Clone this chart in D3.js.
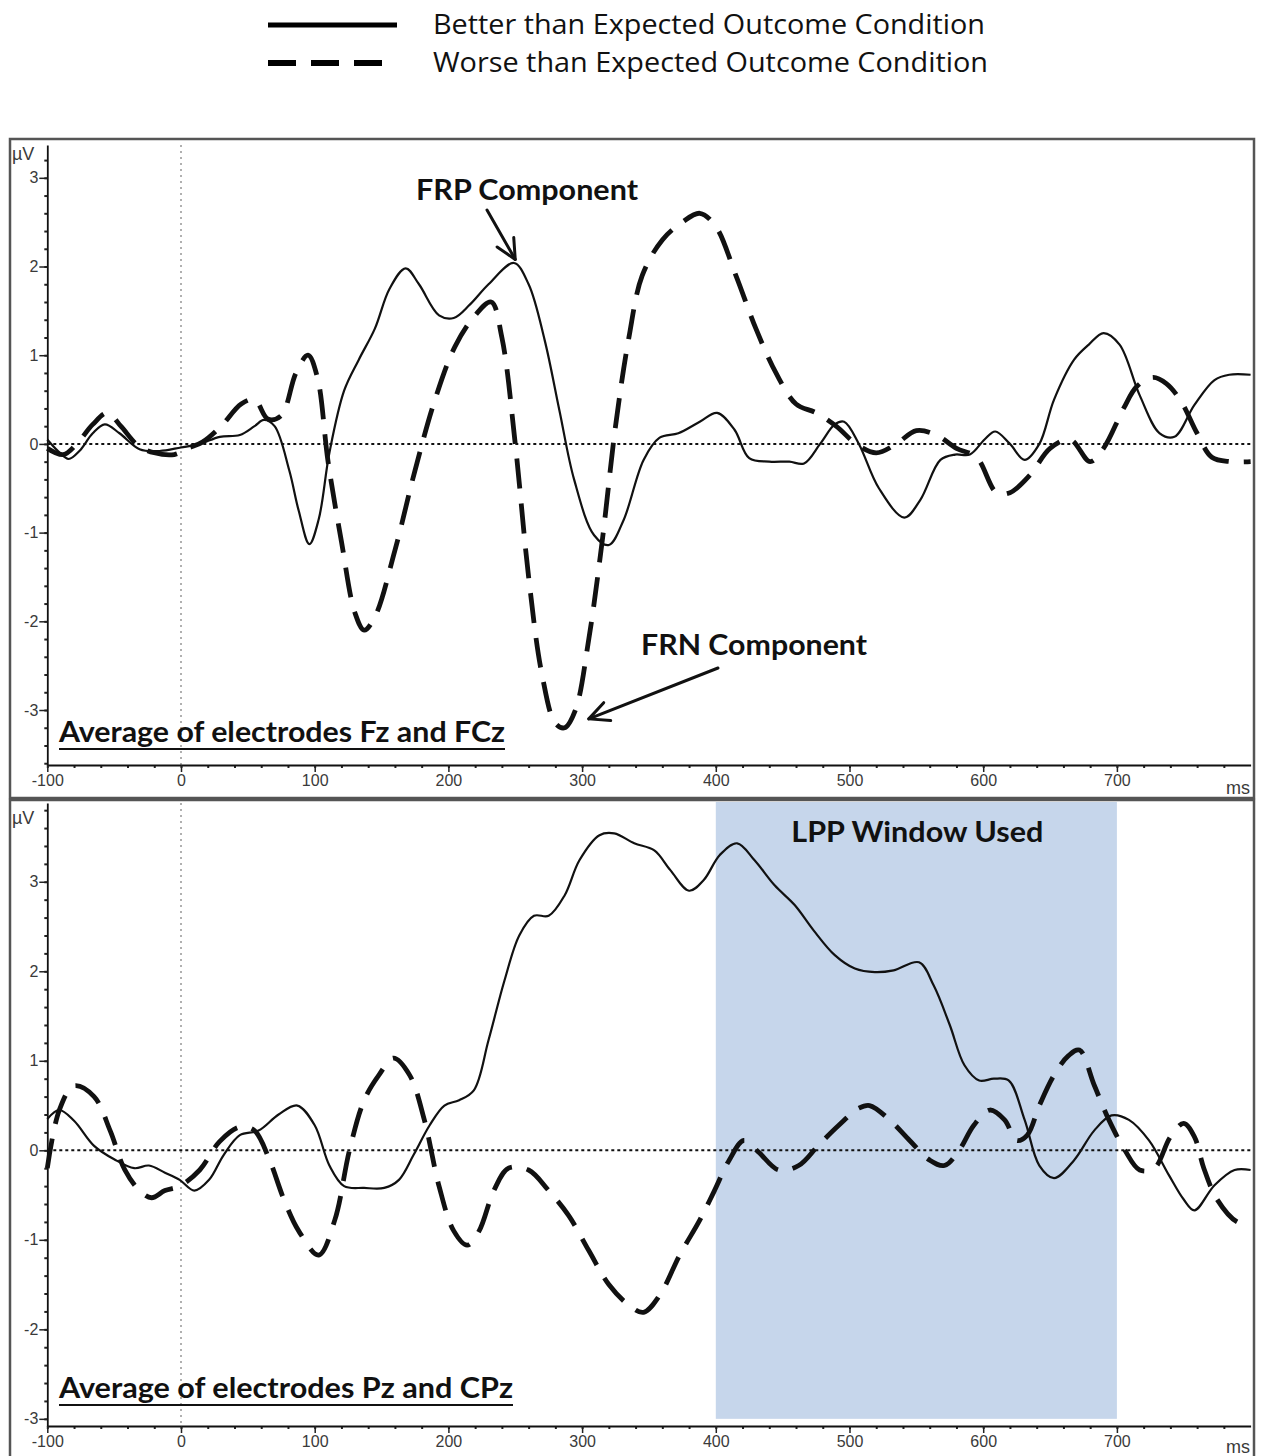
<!DOCTYPE html>
<html>
<head>
<meta charset="utf-8">
<script src="https://cdn.jsdelivr.net/npm/d3@7"></script>
<style>
  html, body { margin: 0; padding: 0; background: #fff; }
  svg { display: block; }
</style>
</head>
<body>
<svg id="chart" width="1264" height="1456"></svg>
<script>
// ERP waveforms (time in ms, amplitude in µV)
const fzBetter = [[-100,0.05],[-92,-0.08],[-84,-0.17],[-76,-0.08],[-66,0.12],[-57,0.22],[-46,0.12],[-31,-0.06],[-16,-0.08],[0,-0.04],[14,0.0],[29,0.08],[44,0.1],[55,0.2],[62,0.27],[70,0.2],[81,-0.3],[88,-0.75],[96,-1.13],[103,-0.85],[111,-0.1],[122,0.6],[133,0.95],[145,1.3],[156,1.75],[168,1.98],[178,1.8],[193,1.45],[204,1.42],[216,1.57],[230,1.8],[249,2.04],[260,1.8],[272,1.17],[283,0.38],[294,-0.4],[309,-1.03],[320,-1.14],[331,-0.86],[346,-0.18],[358,0.07],[372,0.12],[388,0.25],[401,0.35],[414,0.16],[425,-0.16],[440,-0.2],[455,-0.2],[466,-0.22],[478,0],[489,0.22],[496,0.25],[507,0],[522,-0.5],[541,-0.83],[553,-0.63],[568,-0.18],[579,-0.12],[590,-0.12],[601,0.05],[609,0.14],[620,0],[631,-0.18],[642,0],[653,0.5],[668,0.95],[679,1.12],[690,1.25],[702,1.12],[717,0.55],[732,0.12],[743,0.08],[758,0.44],[773,0.72],[784,0.78],[800,0.78]];

const fzWorse = [[-100,-0.05],[-88,-0.12],[-78,0.0],[-66,0.22],[-55,0.35],[-45,0.2],[-32,-0.02],[-20,-0.1],[-5,-0.12],[5,-0.05],[16,0.02],[30,0.2],[45,0.45],[55,0.5],[65,0.28],[75,0.32],[86,0.8],[95,1.0],[102,0.75],[110,-0.2],[120,-1.1],[130,-1.9],[137,-2.1],[145,-1.95],[160,-1.2],[175,-0.3],[190,0.5],[205,1.1],[220,1.45],[232,1.6],[240,1.2],[250,0.0],[260,-1.5],[270,-2.6],[280,-3.15],[287,-3.2],[295,-3.0],[305,-2.2],[315,-1.1],[325,0.2],[335,1.2],[345,1.9],[360,2.3],[375,2.5],[388,2.6],[400,2.45],[415,1.9],[430,1.3],[445,0.8],[460,0.45],[475,0.35],[490,0.2],[505,0.0],[520,-0.1],[535,0.0],[550,0.15],[565,0.1],[580,-0.05],[595,-0.15],[610,-0.55],[620,-0.55],[635,-0.35],[650,-0.05],[665,0.05],[680,-0.2],[690,-0.05],[705,0.4],[715,0.65],[727,0.75],[737,0.68],[748,0.48],[760,0.12],[771,-0.15],[785,-0.2],[800,-0.2]];

const pzBetter = [[-100,0.35],[-91,0.45],[-80,0.33],[-65,0.05],[-50,-0.1],[-35,-0.2],[-24,-0.17],[-12,-0.25],[-1,-0.33],[10,-0.45],[21,-0.33],[32,-0.05],[44,0.17],[58,0.22],[73,0.4],[87,0.5],[100,0.28],[111,-0.17],[122,-0.4],[137,-0.42],[152,-0.42],[163,-0.33],[174,-0.05],[186,0.28],[197,0.5],[208,0.56],[219,0.67],[230,1.23],[242,1.9],[253,2.4],[264,2.62],[275,2.62],[287,2.85],[298,3.24],[313,3.52],[324,3.54],[339,3.43],[354,3.35],[366,3.13],[380,2.9],[391,3.02],[403,3.3],[416,3.43],[429,3.24],[444,2.96],[459,2.74],[473,2.46],[489,2.18],[504,2.03],[519,1.99],[533,2.01],[552,2.1],[563,1.84],[575,1.4],[586,0.95],[597,0.78],[608,0.8],[619,0.78],[631,0.34],[642,-0.17],[653,-0.31],[668,-0.11],[683,0.22],[696,0.39],[709,0.34],[724,0.11],[739,-0.28],[750,-0.55],[758,-0.67],[773,-0.39],[788,-0.22],[800,-0.22]];

const pzWorse = [[-100,-0.2],[-91,0.45],[-80,0.72],[-65,0.6],[-53,0.22],[-42,-0.22],[-31,-0.45],[-22,-0.53],[-12,-0.45],[-1,-0.4],[14,-0.22],[29,0.1],[44,0.26],[55,0.22],[66,-0.1],[77,-0.55],[88,-0.9],[103,-1.17],[115,-0.78],[126,0.0],[137,0.56],[148,0.84],[159,1.03],[171,0.84],[182,0.34],[193,-0.4],[204,-0.9],[214,-1.06],[223,-0.9],[234,-0.45],[245,-0.2],[260,-0.22],[275,-0.45],[290,-0.73],[305,-1.12],[320,-1.5],[335,-1.73],[346,-1.81],[358,-1.62],[373,-1.17],[388,-0.78],[399,-0.45],[410,-0.11],[421,0.11],[432,-0.02],[447,-0.22],[462,-0.17],[477,0.06],[492,0.28],[507,0.47],[515,0.5],[530,0.34],[545,0.11],[560,-0.11],[571,-0.17],[582,0.0],[593,0.28],[605,0.45],[616,0.34],[625,0.11],[633,0.17],[642,0.5],[653,0.84],[664,1.06],[672,1.12],[683,0.73],[694,0.34],[706,0.0],[717,-0.22],[728,-0.2],[740,0.15],[750,0.3],[758,0.15],[765,-0.2],[775,-0.55],[790,-0.8],[800,-0.82]];

// Axis ticks and labels
const xMajorTicks = [-100, 0, 100, 200, 300, 400, 500, 600, 700];
const yMajorTicks = [3, 2, 1, 0, -1, -2, -3];
const legendLabels = ["Better than Expected Outcome Condition", "Worse than Expected Outcome Condition"];
const panelTitles = ["Average of electrodes Fz and FCz", "Average of electrodes Pz and CPz"];
const lppWindow = [400, 700];

const svg = d3.select("#chart");
const tickFont = "'Liberation Sans', Arial, sans-serif";
const boldFont = "Lato, 'Open Sans', sans-serif";

const x = d3.scaleLinear().domain([-100, 800]).range([47.3, 1250.6]);

const panels = [
  { frameTop: 139, frameBottom: 798, y: d3.scaleLinear().domain([-3.62, 3.37]).range([765, 145]),
    better: fzBetter, worse: fzWorse, title: panelTitles[0], titleY: 742, uvY: 160, msY: 794 },
  { frameTop: 800, frameBottom: 1470, y: d3.scaleLinear().domain([-3.08, 3.88]).range([1426, 803]),
    better: pzBetter, worse: pzWorse, title: panelTitles[1], titleY: 1398, uvY: 824, msY: 1453 }
];

// Legend
const legend = svg.append("g");
legend.append("line").attr("x1", 268).attr("x2", 397).attr("y1", 25).attr("y2", 25)
  .attr("stroke", "#000").attr("stroke-width", 5);
legend.append("line").attr("x1", 268).attr("x2", 382).attr("y1", 63).attr("y2", 63)
  .attr("stroke", "#000").attr("stroke-width", 6).attr("stroke-dasharray", "28,15");
legendLabels.forEach((t, i) => {
  legend.append("text").attr("x", 433).attr("y", 34 + i * 38)
    .attr("font-family", "'Open Sans', sans-serif").attr("font-size", 27).attr("fill", "#111")
    .attr("textLength", i === 0 ? 552 : 555).attr("lengthAdjust", "spacingAndGlyphs")
    .text(t);
});

const line = (y) => d3.line().x(d => x(d[0])).y(d => y(d[1])).curve(d3.curveCatmullRom.alpha(0.5));

panels.forEach((p, idx) => {
  const g = svg.append("g");
  const y = p.y;
  const [yLo, yHi] = y.domain();

  // LPP analysis window (bottom panel only)
  if (idx === 1) {
    g.append("rect")
      .attr("x", x(lppWindow[0])).attr("width", x(lppWindow[1]) - x(lppWindow[0]))
      .attr("y", y(yHi) - 1).attr("height", y(-3) - y(yHi) + 1)
      .attr("fill", "#c6d6eb");
    g.append("text").attr("x", x(550) + 1).attr("y", 842).attr("text-anchor", "middle")
      .attr("font-family", boldFont).attr("font-weight", 700).attr("font-size", 29)
      .attr("fill", "#111").attr("textLength", 252).attr("lengthAdjust", "spacingAndGlyphs")
      .text("LPP Window Used");
  }

  // stimulus onset marker
  g.append("line").attr("x1", x(0)).attr("x2", x(0)).attr("y1", y(yHi)).attr("y2", y(yLo))
    .attr("stroke", "#b0b0b0").attr("stroke-width", 2).attr("stroke-dasharray", "2,4");

  // zero baseline
  g.append("line").attr("x1", x(-100)).attr("x2", x(800)).attr("y1", y(0)).attr("y2", y(0))
    .attr("stroke", "#111").attr("stroke-width", 2).attr("stroke-dasharray", "3,3");

  // y axis
  const yMinor = d3.range(Math.ceil(yLo * 5), Math.floor(yHi * 5) + 1).map(v => v / 5);
  g.append("g").attr("transform", `translate(${x(-100)},0)`)
    .call(d3.axisLeft(y).tickValues(yMinor).tickSize(3).tickFormat(""))
    .call(a => a.select(".domain").remove())
    .call(a => a.selectAll("line").attr("stroke", "#222").attr("stroke-width", 2));
  g.append("g").attr("transform", `translate(${x(-100)},0)`)
    .call(d3.axisLeft(y).tickValues(yMajorTicks).tickSize(8).tickPadding(1).tickSizeOuter(0).tickFormat(d => String(d)))
    .call(a => a.select(".domain").attr("stroke", "#111").attr("stroke-width", 1.8))
    .call(a => a.selectAll(".tick line").attr("stroke", "#222").attr("stroke-width", 1.5))
    .call(a => a.selectAll("text").attr("font-family", tickFont).attr("font-size", 16).attr("fill", "#3a3a3a"));

  // x axis
  const xMinor = d3.range(-100, 781, 20);
  g.append("g").attr("transform", `translate(0,${y(yLo)})`)
    .call(d3.axisBottom(x).tickValues(xMinor).tickSize(3).tickFormat(""))
    .call(a => a.select(".domain").remove())
    .call(a => a.selectAll("line").attr("stroke", "#222").attr("stroke-width", 2));
  g.append("g").attr("transform", `translate(0,${y(yLo)})`)
    .call(d3.axisBottom(x).tickValues(xMajorTicks).tickSize(7).tickPadding(3).tickSizeOuter(0).tickFormat(d => String(d)))
    .call(a => a.select(".domain").attr("stroke", "#111").attr("stroke-width", 1.8))
    .call(a => a.selectAll(".tick line").attr("stroke", "#222").attr("stroke-width", 1.5))
    .call(a => a.selectAll("text").attr("font-family", tickFont).attr("font-size", 16).attr("fill", "#3a3a3a"));

  // units
  g.append("text").attr("x", 12).attr("y", p.uvY).attr("font-family", tickFont).attr("font-size", 18)
    .attr("fill", "#3a3a3a").text("µV");
  g.append("text").attr("x", 1250).attr("y", p.msY).attr("text-anchor", "end")
    .attr("font-family", tickFont).attr("font-size", 18).attr("fill", "#3a3a3a").text("ms");

  // waveforms
  g.append("path").datum(p.worse).attr("d", line(y)).attr("fill", "none")
    .attr("stroke", "#111").attr("stroke-width", 4.8).attr("stroke-dasharray", "30,15");
  g.append("path").datum(p.better).attr("d", line(y)).attr("fill", "none")
    .attr("stroke", "#111").attr("stroke-width", 2.2);

  // panel title
  g.append("text").attr("x", 59).attr("y", p.titleY)
    .attr("font-family", boldFont).attr("font-weight", 700).attr("font-size", 28).attr("fill", "#111")
    .attr("textLength", idx === 0 ? 446 : 454).attr("lengthAdjust", "spacingAndGlyphs").text(p.title);
  g.append("line").attr("x1", 59).attr("x2", 59 + (idx === 0 ? 446 : 454))
    .attr("y1", p.titleY + 7).attr("y2", p.titleY + 7).attr("stroke", "#111").attr("stroke-width", 2.2);

  // frame
  g.append("rect").attr("x", 10).attr("y", p.frameTop).attr("width", 1244)
    .attr("height", p.frameBottom - p.frameTop).attr("fill", "none")
    .attr("stroke", "#555").attr("stroke-width", 2.5);
});

// Component annotations (top panel)
const ann = svg.append("g").attr("stroke", "#111").attr("stroke-width", 3).attr("fill", "none")
  .attr("stroke-linecap", "round").attr("stroke-linejoin", "round");
const yTop = panels[0].y;
function arrow(x0, y0, t, v) {
  const x1 = x(t), y1 = yTop(v);
  const ang = Math.atan2(y1 - y0, x1 - x0);
  const len = 22, spread = 0.45;
  ann.append("line").attr("x1", x0).attr("y1", y0).attr("x2", x1).attr("y2", y1);
  ann.append("polyline").attr("points", [
    [x1 - len * Math.cos(ang - spread), y1 - len * Math.sin(ang - spread)],
    [x1, y1],
    [x1 - len * Math.cos(ang + spread), y1 - len * Math.sin(ang + spread)]
  ].map(p => p.join(",")).join(" "));
}
arrow(487, 210, 250, 2.08);
arrow(718, 668, 305, -3.1);

svg.append("text").attr("x", 416).attr("y", 200).attr("font-family", boldFont).attr("font-weight", 700)
  .attr("font-size", 28).attr("fill", "#111").attr("textLength", 222).attr("lengthAdjust", "spacingAndGlyphs")
  .text("FRP Component");
svg.append("text").attr("x", 641).attr("y", 655).attr("font-family", boldFont).attr("font-weight", 700)
  .attr("font-size", 28).attr("fill", "#111").attr("textLength", 226).attr("lengthAdjust", "spacingAndGlyphs")
  .text("FRN Component");
</script>
</body>
</html>
